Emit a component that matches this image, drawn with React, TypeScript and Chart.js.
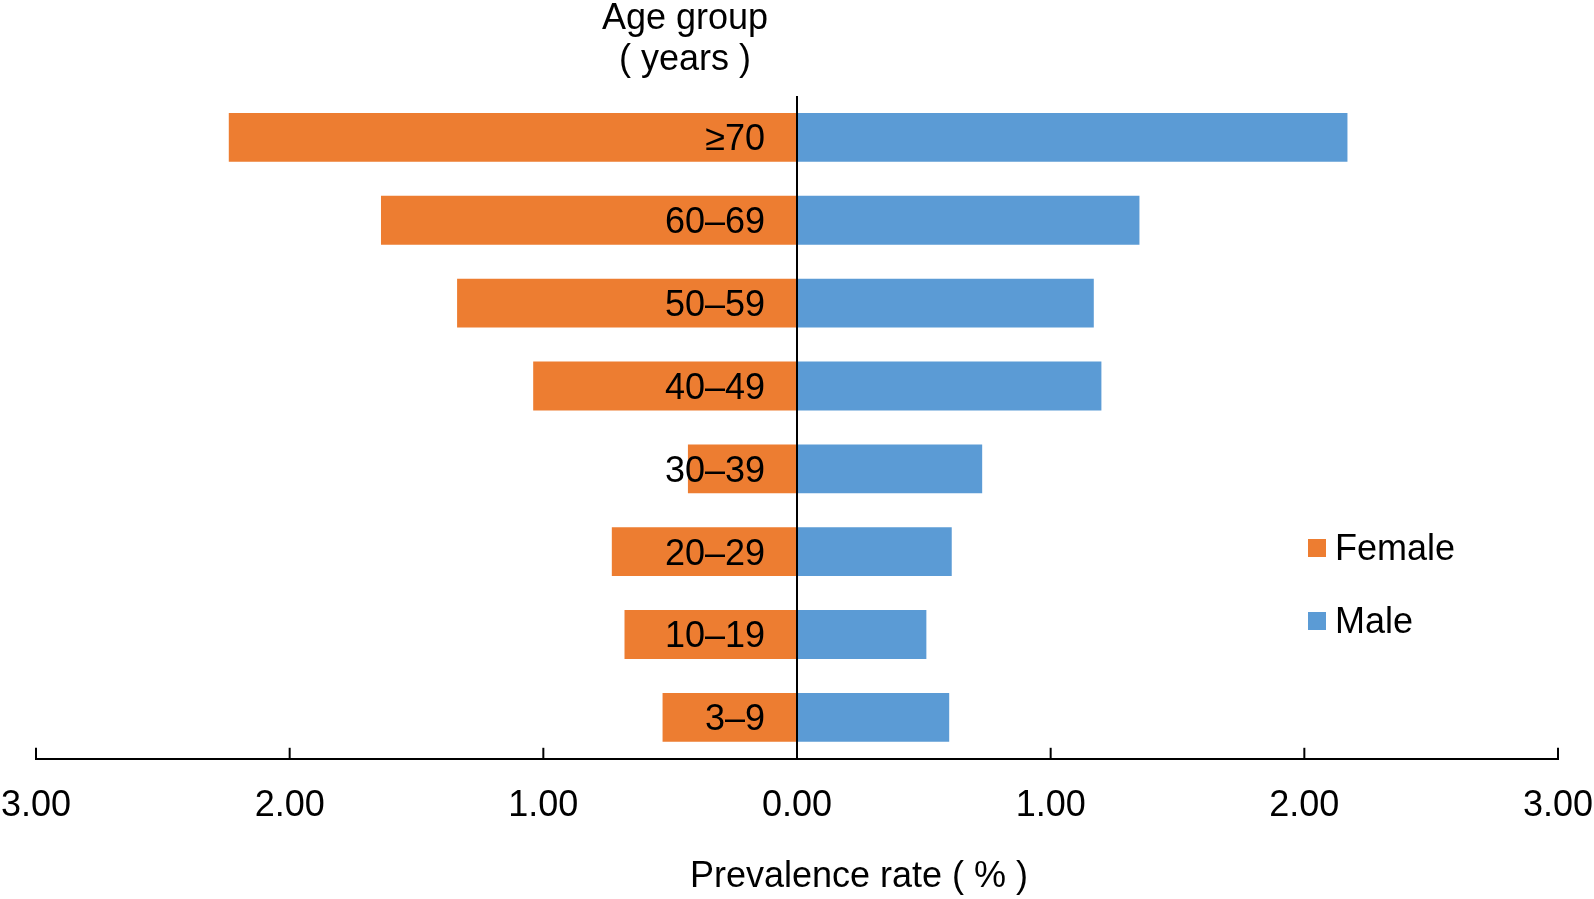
import React, { useEffect, useRef } from "react";
import { Chart, registerables } from "chart.js";

Chart.register(...registerables);

const ageGroups = ["≥70", "60–69", "50–59", "40–49", "30–39", "20–29", "10–19", "3–9"];
const femaleRates = [2.24, 1.64, 1.34, 1.04, 0.43, 0.73, 0.68, 0.53];
const maleRates = [2.17, 1.35, 1.17, 1.2, 0.73, 0.61, 0.51, 0.6];
const xTickValues = [-3, -2, -1, 0, 1, 2, 3];
const seriesLabels = ["Female", "Male"];
const seriesColors = ["#ED7D31", "#5B9BD5"];
const yTitleLines = ["Age group", "( years )"];
const xTitle = "Prevalence rate ( % )";

const FONT = '"Liberation Sans", Arial, sans-serif';
const FS = 36;

const decorPlugin = {
  id: "decor",
  afterDraw(chart: any) {
    const { ctx, chartArea: ca } = chart;
    const xs = chart.scales.x;
    const ys = chart.scales.y;
    const x0 = xs.getPixelForValue(0);
    ctx.save();
    ctx.strokeStyle = "#000";
    ctx.lineWidth = 2;
    // zero line
    ctx.beginPath();
    ctx.moveTo(x0, ca.top);
    ctx.lineTo(x0, ca.bottom);
    ctx.stroke();
    // upward tick marks
    xs.ticks.forEach((t: any) => {
      const px = xs.getPixelForValue(t.value);
      ctx.beginPath();
      ctx.moveTo(px, ca.bottom);
      ctx.lineTo(px, ca.bottom - 11);
      ctx.stroke();
    });
    ctx.fillStyle = "#000";
    ctx.font = `${FS}px ${FONT}`;
    // category labels
    ctx.textAlign = "right";
    ctx.textBaseline = "middle";
    ageGroups.forEach((g, i) => {
      ctx.fillText(g, x0 - 32, ys.getPixelForValue(i) + 3);
    });
    // y title
    ctx.textAlign = "center";
    ctx.fillText(yTitleLines[0], x0 - 112, 19);
    ctx.fillText(yTitleLines[1], x0 - 112, 60);
    // x title
    ctx.fillText(xTitle, x0 + 62, 877);
    // legend
    ctx.textAlign = "left";
    const legendY = [548, 621];
    chart.data.datasets.forEach((ds: any, i: number) => {
      ctx.fillStyle = ds.backgroundColor;
      ctx.fillRect(1308, legendY[i] - 9, 18, 18);
      ctx.fillStyle = "#000";
      ctx.fillText(ds.label, 1335, legendY[i] + 2);
    });
    ctx.restore();
  },
};

export default function App() {
  const ref = useRef<HTMLCanvasElement>(null);
  useEffect(() => {
    if (!ref.current) return;
    const chart = new Chart(ref.current, {
      type: "bar",
      data: {
        labels: ageGroups,
        datasets: [
          {
            label: seriesLabels[0],
            data: femaleRates.map((v) => -v),
            backgroundColor: seriesColors[0],
            barPercentage: 0.59,
            categoryPercentage: 1,
          },
          {
            label: seriesLabels[1],
            data: maleRates,
            backgroundColor: seriesColors[1],
            barPercentage: 0.59,
            categoryPercentage: 1,
          },
        ],
      },
      options: {
        indexAxis: "y",
        responsive: false,
        animation: false,
        layout: { padding: { left: 36, right: 36, top: 96, bottom: 71 } },
        plugins: { legend: { display: false }, tooltip: { enabled: false } },
        scales: {
          x: {
            type: "linear",
            min: -3,
            max: 3,
            stacked: true,
            afterBuildTicks: (axis: any) => {
              axis.ticks = xTickValues.map((v) => ({ value: v }));
            },
            ticks: {
              callback: (v: any) => Math.abs(Number(v)).toFixed(2),
              color: "#000",
              font: { family: FONT, size: FS },
              padding: 0,
              maxRotation: 0,
              autoSkip: false,
            },
            grid: { display: false, drawTicks: true, tickLength: 26 },
            border: { display: true, color: "#000", width: 2 },
          },
          y: {
            type: "category",
            stacked: true,
            display: false,
          },
        },
      },
      plugins: [decorPlugin],
    });
    return () => chart.destroy();
  }, []);
  return (
    <div style={{ position: "absolute", left: 0, top: 0, width: 1594, height: 899, background: "#fff" }}>
      <canvas ref={ref} width={1594} height={899} style={{ display: "block" }} />
    </div>
  );
}
